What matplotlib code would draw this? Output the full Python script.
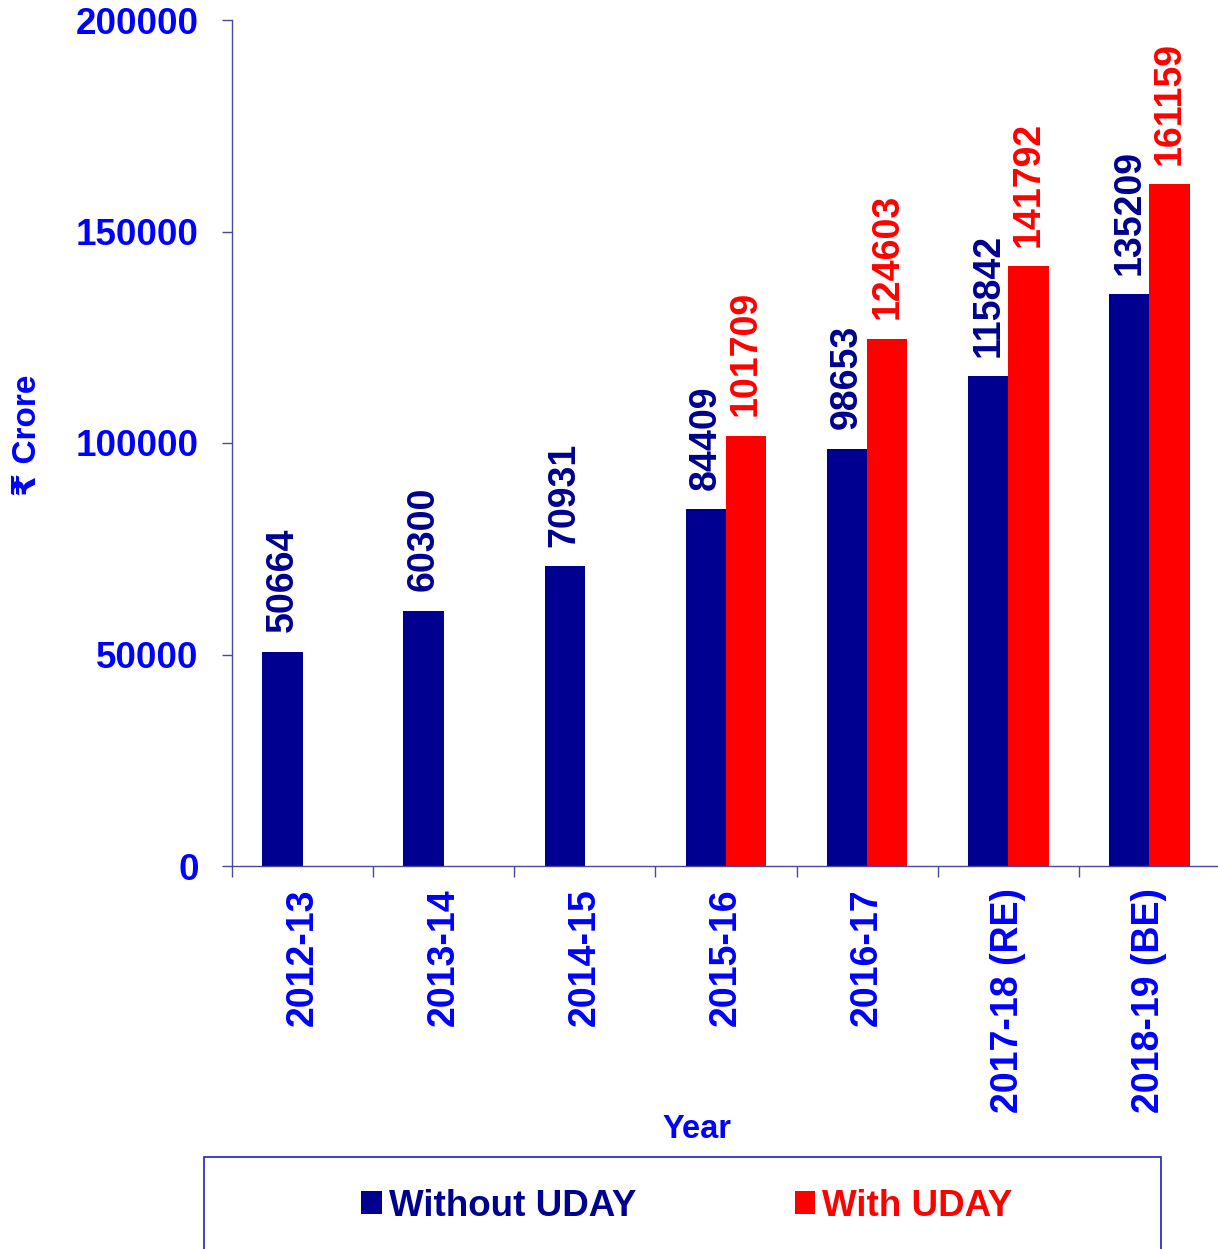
#!/usr/bin/env python3
"""Interest burden with / without UDAY, grouped bar chart."""

import matplotlib
matplotlib.use("Agg")
import matplotlib.pyplot as plt
from matplotlib.patches import Rectangle
import numpy as np

YEARS = ["2012-13", "2013-14", "2014-15", "2015-16", "2016-17",
         "2017-18 (RE)", "2018-19 (BE)"]
WITHOUT_UDAY = [50664, 60300, 70931, 84409, 98653, 115842, 135209]
WITH_UDAY = [None, None, None, 101709, 124603, 141792, 161159]
Y_TICKS = [0, 50000, 100000, 150000, 200000]

NAVY = "#000090"
RED = "#FF0000"
BLUE = "#0000FF"
AXIS = "#4848A0"

plt.rcParams["font.family"] = ["Liberation Sans", "DejaVu Sans"]
plt.rcParams["font.weight"] = "bold"

W, H = 1218, 1249
fig = plt.figure(figsize=(W / 100, H / 100), dpi=100)
ax = fig.add_axes([232 / W, 1 - 866 / H, 988 / W, 846 / H])

x = np.arange(len(YEARS))
w = 0.285
bars_wo = ax.bar(x - w / 2, WITHOUT_UDAY, w, color=NAVY, label="Without UDAY")
with_x = [i + w / 2 for i, v in zip(x, WITH_UDAY) if v is not None]
with_v = [v for v in WITH_UDAY if v is not None]
bars_w = ax.bar(with_x, with_v, w, color=RED, label="With UDAY")

for bars, col in [(bars_wo, NAVY), (bars_w, RED)]:
    for b in bars:
        ax.annotate(f"{int(b.get_height())}",
                    (b.get_x() + b.get_width() / 2, b.get_height()),
                    xytext=(0, 14), textcoords="offset points",
                    rotation=90, ha="center", va="bottom",
                    fontsize=27, fontweight="bold", color=col)

ax.set_xlim(-0.5, len(YEARS) - 0.5)
ax.set_ylim(0, 200000)
ax.set_yticks(Y_TICKS)
ax.set_yticklabels([str(t) for t in Y_TICKS])
ax.set_xticks(x)
ax.set_xticklabels(YEARS, rotation=90)
ax.set_xticks(np.arange(-0.5, len(YEARS)), minor=True)

ax.tick_params(axis="y", length=7, width=1, color=AXIS, pad=17,
               labelsize=26.5, labelcolor=BLUE)
ax.tick_params(axis="x", which="major", length=0, pad=16,
               labelsize=27, labelcolor=BLUE)
ax.tick_params(axis="x", which="minor", length=8, width=1, color=AXIS)

for side in ["top", "right"]:
    ax.spines[side].set_visible(False)
for side in ["left", "bottom"]:
    ax.spines[side].set_color(AXIS)
    ax.spines[side].set_linewidth(1)

fig.text(27 / W, 1 - 435 / H, "₹ Crore", rotation=90, ha="center",
         va="center", fontsize=24, fontweight="bold", color=BLUE)
fig.text(697 / W, 1 - 1129 / H, "Year", ha="center", va="center",
         fontsize=23.5, fontweight="bold", color=BLUE)

# legend frame runs off the bottom of the picture
fig.patches.append(Rectangle((204 / W, -0.02), 957 / W, 0.02 + (1249 - 1157) / H,
                             transform=fig.transFigure, fill=False,
                             edgecolor="#2020C0", linewidth=1.2))
leg = fig.legend(handles=[bars_wo, bars_w], loc="center",
                 bbox_to_anchor=(687 / W, 1 - 1206 / H), ncol=2,
                 frameon=False, fontsize=26.5, labelcolor=[NAVY, RED],
                 handlelength=0.55, handleheight=0.55, handletextpad=0.2,
                 columnspacing=4.3)
for t in leg.get_texts():
    t.set_fontweight("bold")

fig.savefig("out.png", dpi=100)
